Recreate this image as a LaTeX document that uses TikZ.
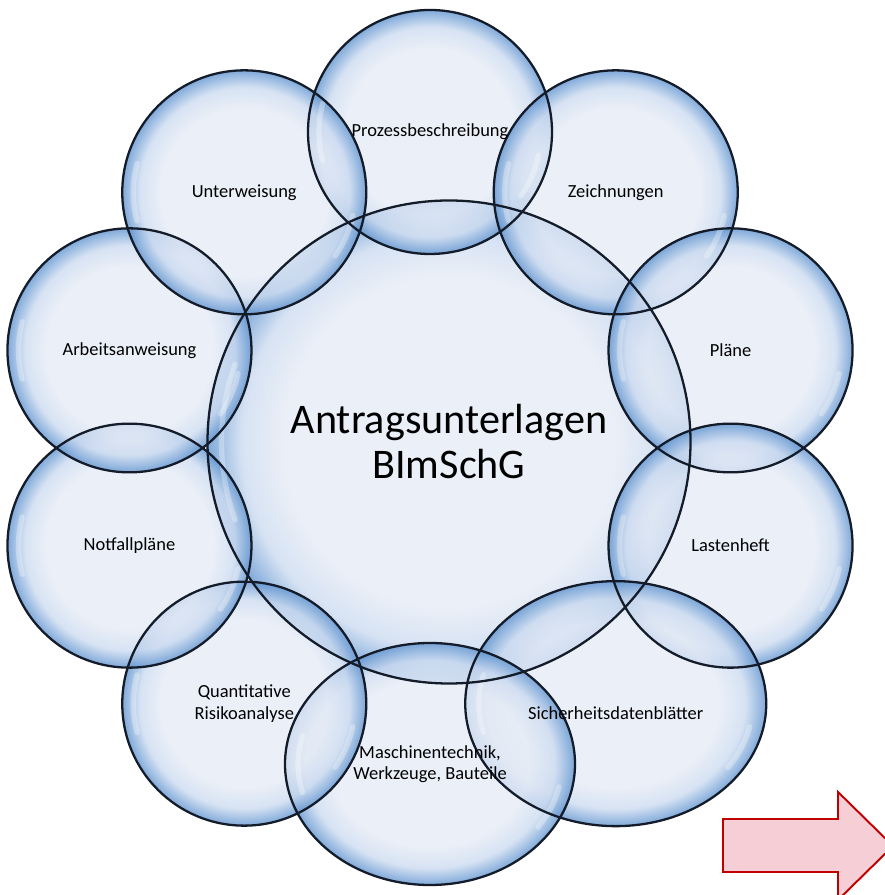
\documentclass[tikz,border=0pt]{standalone}
\usepackage{fontspec}
\setmainfont{Carlito}
\usetikzlibrary{calc,positioning}

\definecolor{bubblein}{RGB}{230,236,246}
\definecolor{bubblemid}{RGB}{204,219,240}
\definecolor{bubbleout}{RGB}{96,148,208}
\definecolor{bubbleline}{RGB}{20,28,42}
\definecolor{arrowfill}{RGB}{246,206,214}
\definecolor{arrowline}{RGB}{192,0,0}
\pgfdeclareradialshading{bubble}{\pgfpoint{0bp}{0bp}}{%
  color(0bp)=(bubblein); color(17bp)=(bubblein);
  color(21.5bp)=(bubblemid); color(25bp)=(bubbleout);
  color(50bp)=(bubbleout)}

\tikzset{
  bubblefill/.style={shading=bubble, fill opacity=0.8},
  bubbleedge/.style={draw=bubbleline, line width=1.3pt},
  glint/.style={white, line width=3pt, opacity=0.3, line cap=round},
  smalllabel/.style={align=center, font=\fontsize{10.5}{12}\selectfont},
  biglabel/.style={align=center, font=\fontsize{24}{25.6}\selectfont}
}

\begin{document}
\begin{tikzpicture}
  \useasboundingbox (0,0) rectangle (17.7,17.9);
  \clip (0,0) rectangle (17.7,17.9);
  \coordinate (ring) at (8.6,8.94);
  \coordinate (mid) at (8.98,9.06);
  % shaded bubbles (the two lower right ones are a bit wider)
  \shade[bubblefill] (mid) circle (4.83);
  \foreach \ang/\rx/\ry in {90/2.44/2.44, 54/2.44/2.44, 18/2.44/2.44,
      -18/2.44/2.44, -54/3.01/2.45, -90/2.9/2.42, -126/2.44/2.44,
      -162/2.44/2.44, 162/2.44/2.44, 126/2.44/2.44}
    \shade[bubblefill] ($(ring)+(\ang:6.32)$) ellipse[x radius=\rx, y radius=\ry];
  % glints
  \draw[glint] ($(mid)+(160:4.55)$) arc[start angle=160, end angle=200, radius=4.55];
  \foreach \ang/\rx/\ry in {90/2.44/2.44, 54/2.44/2.44, 18/2.44/2.44,
      -18/2.44/2.44, -54/3.01/2.45, -90/2.9/2.42, -126/2.44/2.44,
      -162/2.44/2.44, 162/2.44/2.44, 126/2.44/2.44}
  {
    \draw[glint] ($(ring)+(\ang:6.32)+({0.91*\rx*cos(165)},{0.91*\ry*sin(165)})$)
      arc[start angle=165, end angle=195, x radius=0.91*\rx, y radius=0.91*\ry];
    \draw[glint] ($(ring)+(\ang:6.32)+({0.91*\rx*cos(-35)},{0.91*\ry*sin(-35)})$)
      arc[start angle=-35, end angle=-12, x radius=0.91*\rx, y radius=0.91*\ry];
  }
  % outlines
  \draw[bubbleedge] (mid) circle (4.83);
  \foreach \ang/\rx/\ry in {90/2.44/2.44, 54/2.44/2.44, 18/2.44/2.44,
      -18/2.44/2.44, -54/3.01/2.45, -90/2.9/2.42, -126/2.44/2.44,
      -162/2.44/2.44, 162/2.44/2.44, 126/2.44/2.44}
    \draw[bubbleedge] ($(ring)+(\ang:6.32)$) ellipse[x radius=\rx, y radius=\ry];
  % labels
  \node[biglabel] (antrag) at (mid) {Antragsunterlagen\\BImSchG};
  \foreach \ang/\name/\txt/\dy in {
      90/prozess/Prozessbeschreibung/0,
      54/zeichnung/Zeichnungen/0,
      18/plaene/Pläne/0,
      -18/lasten/Lastenheft/0,
      -54/sicher/Sicherheitsdatenblätter/-0.2,
      -90/maschine/{Maschinentechnik,\\Werkzeuge, Bauteile}/0,
      -126/risiko/{Quantitative\\Risikoanalyse}/0,
      -162/notfall/Notfallpläne/0,
      162/arbeit/Arbeitsanweisung/0,
      126/unterweis/Unterweisung/0}
    \node[smalllabel] (\name) at ($(ring)+(\ang:6.32)+(0,\dy)$) {\txt};
  % block arrow, cut at the page edge
  \draw[fill=arrowfill, draw=arrowline, line width=1.1pt, line join=miter]
    (14.46,1.52) -- (16.76,1.52) -- (16.76,2.06) -- (17.86,0.98)
    -- (16.76,-0.1) -- (16.76,0.46) -- (14.46,0.46) -- cycle;
\end{tikzpicture}
\end{document}
